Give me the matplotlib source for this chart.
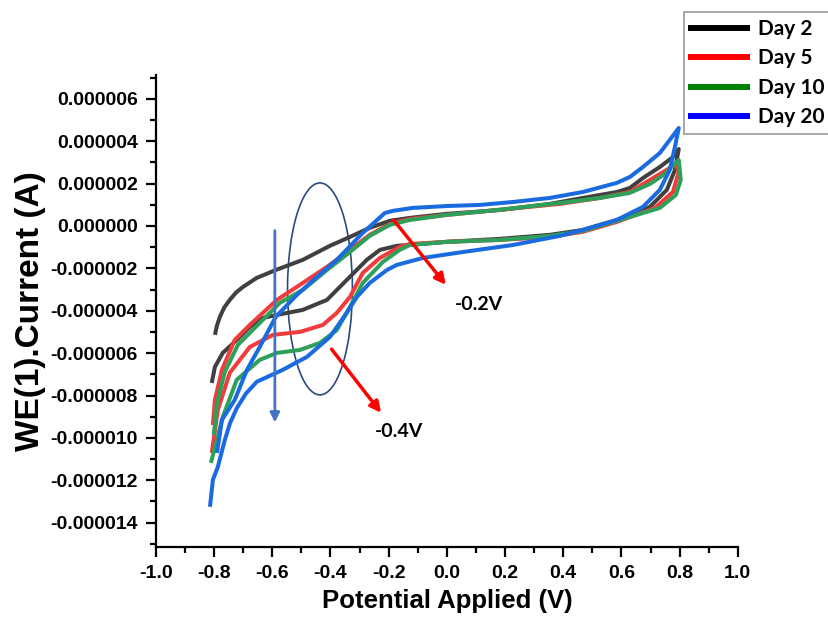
import matplotlib
matplotlib.use("Agg")
import matplotlib.pyplot as plt
from matplotlib.patches import Ellipse
from matplotlib.ticker import MultipleLocator, FuncFormatter
import numpy as np

plt.rcParams["font.family"] = ["Liberation Sans", "DejaVu Sans"]
plt.rcParams["font.weight"] = "bold"

# Potential (V) and current (uA); each loop = forward branch then return branch
day2_v = [-0.797, -0.790, -0.780, -0.765, -0.746, -0.725, -0.701, -0.653, -0.588, -0.495,
          -0.402, -0.333, -0.265, -0.196, -0.127, 0.000, 0.182, 0.354, 0.467, 0.584, 0.629,
          0.674, 0.732, 0.777, 0.797,
          0.784, 0.756, 0.698, 0.584, 0.467, 0.354, 0.182, 0.000, -0.172, -0.230, -0.275,
          -0.344, -0.412, -0.495, -0.584, -0.632, -0.677, -0.722, -0.770, -0.797, -0.808]
day2_i = [-5.14, -4.70, -4.29, -3.85, -3.49, -3.15, -2.88, -2.45, -2.08, -1.60,
          -0.94, -0.52, -0.09, 0.24, 0.38, 0.57, 0.75, 1.04, 1.32, 1.60, 1.79,
          2.26, 2.78, 3.25, 3.63,
          2.64, 1.70, 0.90, 0.28, -0.19, -0.42, -0.61, -0.75, -0.94, -1.13, -1.60,
          -2.55, -3.49, -3.96, -4.20, -4.34, -4.76, -5.38, -5.99, -6.65, -7.41]

day5_v = [-0.804, -0.797, -0.773, -0.729, -0.677, -0.584, -0.505, -0.412, -0.333, -0.265,
          -0.196, -0.127, 0.000, 0.172, 0.388, 0.526, 0.629, 0.698, 0.749, 0.787,
          0.797, 0.777, 0.715, 0.584, 0.467, 0.354, 0.182, 0.000, -0.127, -0.162, -0.230,
          -0.289, -0.333, -0.378, -0.426, -0.505, -0.598, -0.677, -0.746, -0.787, -0.808]
day5_i = [-9.39, -8.21, -6.79, -5.38, -4.67, -3.49, -2.78, -1.93, -1.13, -0.42,
          0.09, 0.33, 0.52, 0.75, 1.04, 1.32, 1.60, 2.17, 2.59, 2.92,
          2.55, 1.60, 0.85, 0.19, -0.28, -0.52, -0.66, -0.75, -0.85, -0.99, -1.51,
          -2.22, -3.35, -4.10, -4.67, -5.00, -5.14, -5.71, -6.93, -8.68, -10.71]

day10_v = [-0.801, -0.790, -0.763, -0.718, -0.660, -0.574, -0.495, -0.412, -0.333, -0.265,
           -0.196, -0.127, 0.000, 0.172, 0.388, 0.526, 0.629, 0.698, 0.749, 0.797,
           0.804, 0.787, 0.732, 0.584, 0.467, 0.354, 0.182, 0.000, -0.127, -0.162, -0.220,
           -0.289, -0.333, -0.378, -0.436, -0.505, -0.584, -0.643, -0.722, -0.770, -0.790, -0.811]
day10_i = [-9.86, -8.35, -6.89, -5.61, -4.81, -3.63, -3.02, -2.08, -1.23, -0.47,
           0.05, 0.28, 0.52, 0.75, 1.08, 1.32, 1.56, 1.98, 2.45, 3.11,
           2.17, 1.46, 0.85, 0.24, -0.24, -0.47, -0.66, -0.75, -0.90, -1.13, -1.70,
           -2.69, -3.82, -4.91, -5.52, -5.85, -5.99, -6.32, -7.26, -9.01, -10.09, -11.18]

day20_v = [-0.790, -0.773, -0.729, -0.687, -0.643, -0.588, -0.515, -0.447, -0.378, -0.289,
           -0.247, -0.213, -0.186, -0.117, 0.000, 0.113, 0.227, 0.354, 0.467, 0.584, 0.629,
           0.674, 0.732, 0.797,
           0.784, 0.766, 0.732, 0.674, 0.584, 0.467, 0.388, 0.227, 0.055, -0.082, -0.172,
           -0.206, -0.265, -0.309, -0.344, -0.402, -0.481, -0.564, -0.653, -0.690, -0.722,
           -0.745, -0.763, -0.787, -0.804, -0.814]
day20_i = [-10.71, -9.15, -8.21, -6.79, -5.71, -4.29, -3.25, -2.41, -1.60, -0.33,
           0.19, 0.61, 0.71, 0.85, 0.94, 0.99, 1.13, 1.32, 1.60, 2.03, 2.31,
           2.78, 3.44, 4.62,
           3.73, 2.64, 1.70, 0.90, 0.28, -0.19, -0.47, -0.90, -1.23, -1.51, -1.84,
           -2.08, -2.69, -3.35, -4.10, -5.24, -6.18, -6.79, -7.35, -7.90, -8.60,
           -9.30, -10.10, -11.37, -11.98, -13.25]

labels = ["Day 2", "Day 5", "Day 10", "Day 20"]
line_colors = ["#404040", "#f23c3c", "#2fa05a", "#1a6be0"]
legend_colors = ["black", "red", "green", "blue"]

fig = plt.figure(figsize=(8.29, 6.2), dpi=100)
ax = fig.add_axes([0.188, 0.118, 0.702, 0.761])

for v, i, c in zip([day2_v, day5_v, day10_v, day20_v],
                   [day2_i, day5_i, day10_i, day20_i], line_colors):
    ax.plot(v, np.array(i) * 1e-6, color=c, lw=2.9, solid_capstyle="butt",
            solid_joinstyle="round")

# markers drawn on the chart
ax.add_patch(Ellipse((-0.436, -2.97e-6), 0.223, 10.0e-6, fill=False,
                     edgecolor="#2b4a80", lw=1.2))
ax.annotate("", xy=(-0.591, -9.4e-6), xytext=(-0.591, -0.09e-6),
            arrowprops=dict(arrowstyle="-|>", color="#4472c4", lw=2,
                            mutation_scale=14))
ax.annotate("", xy=(0.003, -2.88e-6), xytext=(-0.189, 0.38e-6),
            arrowprops=dict(arrowstyle="-|>", color="red", lw=2.5,
                            mutation_scale=16))
ax.annotate("", xy=(-0.220, -8.92e-6), xytext=(-0.402, -5.71e-6),
            arrowprops=dict(arrowstyle="-|>", color="red", lw=2.5,
                            mutation_scale=16))
ax.text(0.027, -3.73e-6, "-0.2V", fontsize=14, fontweight="bold",
        family=["Lato", "DejaVu Sans"], va="center", ha="left")
ax.text(-0.247, -9.72e-6, "-0.4V", fontsize=14, fontweight="bold",
        family=["Lato", "DejaVu Sans"], va="center", ha="left")

ax.set_xlim(-1.0, 1.0)
ax.set_ylim(-15.14e-6, 7.12e-6)
ax.xaxis.set_major_locator(MultipleLocator(0.2))
ax.xaxis.set_minor_locator(MultipleLocator(0.1))
ax.yaxis.set_major_locator(MultipleLocator(2e-6))
ax.yaxis.set_minor_locator(MultipleLocator(1e-6))
ax.xaxis.set_major_formatter(FuncFormatter(lambda v, p: f"{v:.1f}" if abs(v) > 1e-9 else "0.0"))
ax.yaxis.set_major_formatter(FuncFormatter(lambda v, p: f"{v:.6f}" if abs(v) > 1e-12 else "0.000000"))

for s in ["top", "right"]:
    ax.spines[s].set_visible(False)
for s in ["left", "bottom"]:
    ax.spines[s].set_linewidth(1.6)
ax.tick_params(which="major", direction="out", length=7, width=1.6, labelsize=14, pad=6)
ax.tick_params(which="minor", direction="out", length=4, width=1.6)
for t in ax.get_xticklabels() + ax.get_yticklabels():
    t.set_fontweight("bold")

ax.set_xlabel("Potential Applied (V)", fontsize=18.5, fontweight="bold", labelpad=5)
ax.set_ylabel("WE(1).Current (A)", fontsize=24, fontweight="bold", labelpad=3)

handles = [plt.Line2D([], [], color=c, lw=4.3) for c in legend_colors]
leg = fig.legend(handles, labels, loc="upper left", bbox_to_anchor=(0.825, 0.981),
                 frameon=True, fancybox=False, handlelength=2.7, handletextpad=0.5,
                 labelspacing=0.45, borderpad=0.35, borderaxespad=0,
                 prop=dict(family=["Lato", "DejaVu Sans"], weight="bold", size=15))
leg.get_frame().set_edgecolor("#808080")
leg.get_frame().set_linewidth(1.2)

plt.savefig("out.png", dpi=100)
